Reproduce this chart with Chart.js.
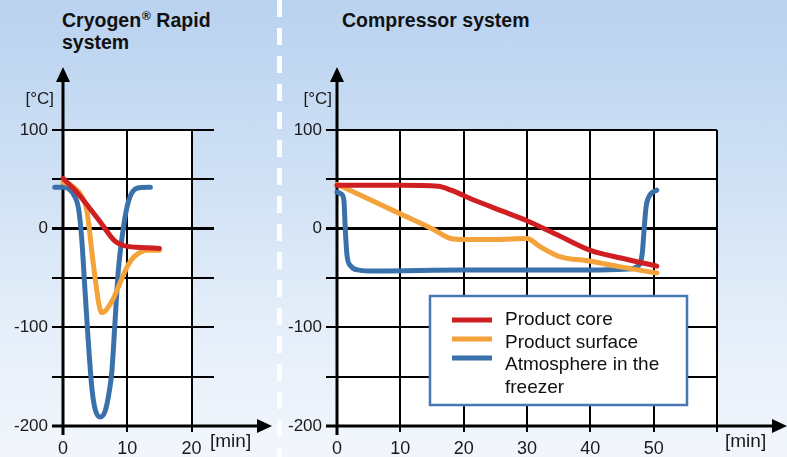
<!DOCTYPE html>
<html><head><meta charset="utf-8">
<script src="https://cdn.jsdelivr.net/npm/chart.js@4.4.1/dist/chart.umd.min.js"></script>
<style>
html,body{margin:0;padding:0;}
body{width:787px;height:457px;overflow:hidden;position:relative;
background:linear-gradient(to bottom,#b9d2ef 0%,#cddff4 35%,#e4eef9 70%,#f2f6fc 100%);
font-family:"Liberation Sans",Arial,Helvetica,sans-serif;}
#cL{position:absolute;left:0;top:0;}
#cR{position:absolute;left:280px;top:0;}
.sep{position:absolute;left:277px;top:0;width:5px;height:457px;
background:repeating-linear-gradient(to bottom,rgba(255,255,255,0.95) 0 17px,rgba(255,255,255,0) 17px 28px);}
.title{position:absolute;top:11px;font-weight:bold;font-size:19.5px;line-height:19px;color:#111;white-space:nowrap;}
.reg{font-size:12px;position:relative;top:-7px;margin-left:1px;}
</style></head>
<body>
<div class="sep"></div>
<div class="title" style="left:62px">Cryogen<span class="reg">®</span> Rapid<br>system</div>
<div class="title" style="left:342px">Compressor system</div>
<canvas id="cL" width="278" height="457"></canvas>
<canvas id="cR" width="507" height="457"></canvas>
<script>
// ---------- data ----------
const seriesNames = ['Product core', 'Product surface', 'Atmosphere in the freezer'];
const legendLines = [['Product core'], ['Product surface'], ['Atmosphere in the', 'freezer']];
const yUnit = '[°C]';
const xUnit = '[min]';
const yLabelValues = [100, 0, -100, -200];

// Cryogen Rapid system
const cryoCoreTime = [0, 2, 4, 6, 8, 10, 12, 15];
const cryoCoreTemp = [51, 38, 22, 5, -12, -18, -19, -20];
const cryoSurfTime = [0, 1, 2, 2.6, 3.3, 3.7, 4.0, 4.5, 5.2, 5.6, 6, 6.5, 7.2, 7.9, 9.2, 10.2, 11, 12, 13, 15];
const cryoSurfTemp = [47, 45, 40, 36, 28, 19, 5, -24, -60, -77, -85, -84, -78, -70, -50, -36, -29, -24, -22, -22];
const cryoAtmTime = [-1.3, 0, 1, 1.8, 2.4, 2.9, 3.4, 3.9, 4.5, 5.0, 5.8, 6.6, 7.2, 7.6, 8.1, 8.6, 9.4, 10.2, 11.5, 13.6];
const cryoAtmTemp = [42, 42, 40, 33, 21, -9, -60, -111, -162, -183, -191, -184, -165, -145, -94, -43, 1, 28, 41, 42];

// Compressor system
const compCoreTime = [0, 10, 16, 18, 22, 26, 30, 35, 40, 45, 50.5];
const compCoreTemp = [44, 44, 43, 39, 28, 18, 8, -7, -22, -30, -38];
const compSurfTime = [0, 5, 10, 15, 18, 20, 25, 30, 32, 35, 40, 45, 50.5];
const compSurfTemp = [45, 30, 15, 0, -10, -11, -11, -10, -18, -28, -33, -39, -45];
const compAtmTime = [0, 0.7, 1.1, 1.3, 1.6, 2.2, 3.5, 6, 20, 40, 46, 47.5, 48.2, 48.5, 48.8, 49.3, 50.5];
const compAtmTemp = [37, 35, 28, 0, -28, -38, -42, -43, -42, -42, -41, -38, -25, 0, 22, 33, 39];

const colors = ['#cf1f22', '#f4a23a', '#3a71ab'];
// ---------------------------

const FONT = '"Liberation Sans", Arial, Helvetica, sans-serif';
Chart.defaults.font.family = FONT;
const pts = (t, v) => t.map((x, i) => ({x: x, y: v[i]}));

function makeSets(times, temps) {
  return times.map((t, i) => ({
    label: seriesNames[i],
    data: pts(t, temps[i]),
    borderColor: colors[i],
    borderWidth: 5,
    borderCapStyle: 'round',
    borderJoinStyle: 'round',
    cubicInterpolationMode: 'monotone',
    pointRadius: 0,
    fill: false,
    clip: false
  }));
}

const plotBg = {
  id: 'plotBg',
  beforeDraw(chart, args, o) {
    const {ctx, scales: {x, y}} = chart;
    const x0 = x.getPixelForValue(0), x1 = x.getPixelForValue(o.xEnd);
    const y0 = y.getPixelForValue(100), y1 = y.getPixelForValue(-200);
    ctx.save(); ctx.fillStyle = '#ffffff'; ctx.fillRect(x0, y0, x1 - x0, y1 - y0); ctx.restore();
  }
};

const axesArrows = {
  id: 'axesArrows',
  beforeDatasetsDraw(chart, args, o) {
    const {ctx, scales: {x, y}} = chart;
    const ax = x.getPixelForValue(0), ay = y.getPixelForValue(-200);
    ctx.save();
    ctx.strokeStyle = '#000'; ctx.fillStyle = '#000'; ctx.lineWidth = 3;
    ctx.beginPath(); ctx.moveTo(ax, ay + 9); ctx.lineTo(ax, o.yTip + 12); ctx.stroke();
    ctx.beginPath(); ctx.moveTo(ax - 11, ay); ctx.lineTo(o.xTip - 12, ay); ctx.stroke();
    ctx.beginPath(); ctx.moveTo(ax, o.yTip); ctx.lineTo(ax - 7, o.yTip + 15); ctx.lineTo(ax + 7, o.yTip + 15); ctx.closePath(); ctx.fill();
    ctx.beginPath(); ctx.moveTo(o.xTip, ay); ctx.lineTo(o.xTip - 15, ay - 7); ctx.lineTo(o.xTip - 15, ay + 7); ctx.closePath(); ctx.fill();
    ctx.fillStyle = '#1a1a1a';
    ctx.font = '17px ' + FONT; ctx.textAlign = 'right'; ctx.textBaseline = 'middle';
    ctx.fillText(yUnit, ax - o.cOff, 99);
    ctx.font = '19px ' + FONT; ctx.textAlign = 'left';
    ctx.fillText(xUnit, o.minX, 442);
    ctx.restore();
  }
};

const boxLegend = {
  id: 'boxLegend',
  afterDatasetsDraw(chart, args, o) {
    if (!o.show) return;
    const ctx = chart.ctx;
    ctx.save();
    ctx.fillStyle = '#fff'; ctx.fillRect(o.x, o.y, o.w, o.h);
    ctx.strokeStyle = '#4677b0'; ctx.lineWidth = 2.5; ctx.strokeRect(o.x, o.y, o.w, o.h);
    chart.data.datasets.forEach((ds, i) => {
      ctx.strokeStyle = ds.borderColor; ctx.lineWidth = 5;
      const yy = o.y + 24 + i * 19;
      ctx.beginPath(); ctx.moveTo(o.x + 22, yy); ctx.lineTo(o.x + 62, yy); ctx.stroke();
    });
    ctx.fillStyle = '#111'; ctx.font = '19px ' + FONT; ctx.textAlign = 'left'; ctx.textBaseline = 'alphabetic';
    let line = 0;
    legendLines.forEach(lines => lines.forEach(t => {
      ctx.fillText(t, o.x + 75, o.y + 29 + line * 22.5); line++;
    }));
    ctx.restore();
  }
};

function makeChart(id, sets, xMax, xEnd, rightPad, yAxisW, opts) {
  return new Chart(document.getElementById(id), {
    type: 'line',
    data: {datasets: sets},
    options: {
      responsive: false, animation: false, events: [],
      layout: {padding: {top: 130, right: rightPad, left: 0, bottom: 0}},
      plugins: {
        legend: {display: false}, tooltip: {enabled: false},
        plotBg: {xEnd: xEnd},
        axesArrows: opts.arrows,
        boxLegend: opts.legend
      },
      scales: {
        x: {
          type: 'linear', min: 0, max: xMax,
          afterFit: s => { s.height = 31; },
          border: {display: false},
          grid: {color: '#000', lineWidth: 2, tickLength: 6},
          ticks: {stepSize: 10, includeBounds: false, maxRotation: 0, color: '#1a1a1a',
                  font: {size: 18}, padding: 6,
                  callback: v => (v > xEnd - 10 + 0.01 && opts.hideLast) ? '' : String(v)}
        },
        y: {
          type: 'linear', min: -200, max: 100,
          afterFit: s => { s.width = yAxisW; },
          border: {display: false},
          grid: {color: '#000', tickLength: 11,
                 lineWidth: c => (c.tick && c.tick.value === 0) ? 3 : 2},
          ticks: {stepSize: 50, color: '#1a1a1a', font: {size: 17}, padding: 4,
                  callback: v => yLabelValues.includes(v) ? String(v) : ''}
        }
      }
    },
    plugins: [plotBg, axesArrows, boxLegend]
  });
}

makeChart('cL',
  makeSets([cryoCoreTime, cryoSurfTime, cryoAtmTime], [cryoCoreTemp, cryoSurfTemp, cryoAtmTemp]),
  23.5, 20, 64, 63,
  {arrows: {yTip: 67, xTip: 272, cOff: 9, minX: 210}, legend: {show: false}, hideLast: false});

makeChart('cR',
  makeSets([compCoreTime, compSurfTime, compAtmTime], [compCoreTemp, compSurfTemp, compAtmTemp]),
  60, 60, 70, 57,
  {arrows: {yTip: 67, xTip: 507, cOff: 5, minX: 445}, legend: {show: true, x: 150, y: 296, w: 257, h: 109}, hideLast: true});
</script>
</body></html>
